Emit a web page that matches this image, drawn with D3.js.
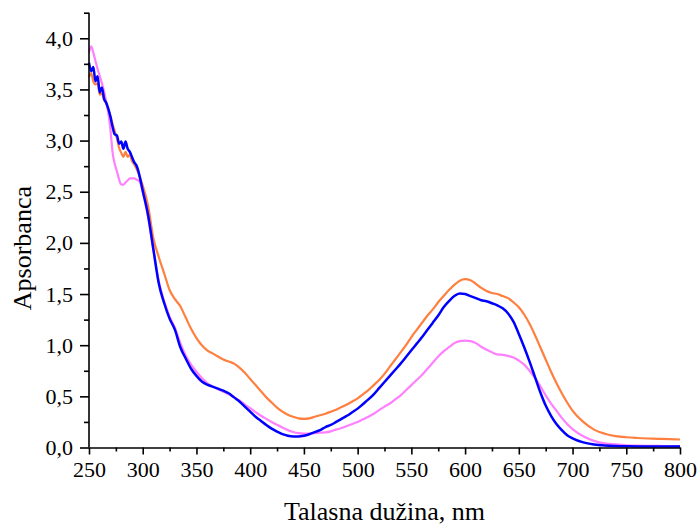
<!DOCTYPE html>
<html>
<head>
<meta charset="utf-8">
<script src="https://cdn.jsdelivr.net/npm/d3@7"></script>
<style>
  html, body { margin: 0; padding: 0; background: #fff; }
  svg { display: block; }
  text { font-family: "Liberation Serif", "Times New Roman", serif; fill: #000; }
</style>
</head>
<body>
<svg id="chart" width="700" height="526"></svg>
<script>
const wavelengths = [
  250,252,254,256,258,260,262,264,266,268,270,272,274,276,278,280,282,284,286,288,290,292,294,296,298,300,
  305,310,315,320,325,330,335,340,345,350,355,360,365,370,375,380,385,390,395,400,
  405,410,415,420,425,430,435,440,445,450,455,460,465,470,475,480,485,490,495,500,
  505,510,515,520,525,530,535,540,545,550,555,560,565,570,575,580,585,590,595,600,
  605,610,615,620,625,630,635,640,645,650,655,660,665,670,675,680,685,690,695,700,
  710,720,730,740,750,760,770,780,790,800
];

const orangeValues = [
  3.62,3.66,3.58,3.55,3.56,3.45,3.46,3.40,3.36,3.30,3.24,3.16,3.09,3.02,2.93,2.88,2.84,2.89,2.84,2.86,2.80,2.77,2.73,2.68,2.62,2.56,
  2.36,2.04,1.86,1.70,1.54,1.45,1.38,1.27,1.16,1.07,
  1.00,0.95,0.92,0.89,0.86,0.84,0.82,0.78,0.73,0.67,
  0.61,0.55,0.49,0.44,0.39,0.35,0.32,0.30,0.285,0.28,
  0.285,0.30,0.315,0.33,0.35,0.37,0.395,0.42,0.45,0.48,
  0.52,0.56,0.61,0.66,0.72,0.79,0.86,0.93,1.00,1.08,
  1.15,1.22,1.29,1.35,1.42,1.48,1.54,1.59,1.63,1.645,
  1.635,1.60,1.56,1.53,1.51,1.50,1.48,1.46,1.42,1.37,
  1.30,1.21,1.10,0.98,0.86,0.74,0.63,0.53,0.44,0.36,
  0.25,0.175,0.135,0.112,0.100,0.093,0.088,0.085,0.082,0.078
];

const pinkValues = [
  3.86,3.92,3.86,3.78,3.70,3.63,3.56,3.48,3.38,3.27,3.10,2.88,2.77,2.70,2.62,2.57,2.57,2.59,2.61,2.63,2.63,2.63,2.62,2.61,2.58,2.50,
  2.25,1.93,1.62,1.43,1.28,1.17,1.02,0.90,0.81,0.74,
  0.68,0.63,0.595,0.57,0.545,0.52,0.49,0.46,0.42,0.385,
  0.345,0.31,0.28,0.25,0.222,0.195,0.17,0.152,0.14,0.135,
  0.137,0.14,0.145,0.148,0.158,0.175,0.19,0.21,0.23,0.25,
  0.275,0.30,0.33,0.365,0.40,0.43,0.47,0.51,0.56,0.61,
  0.66,0.71,0.77,0.83,0.89,0.94,0.98,1.02,1.04,1.045,
  1.04,1.02,0.985,0.955,0.93,0.91,0.905,0.895,0.88,0.85,
  0.81,0.75,0.68,0.60,0.51,0.43,0.36,0.29,0.23,0.18,
  0.11,0.065,0.04,0.03,0.022,0.018,0.016,0.015,0.014,0.013
];

const blueValues = [
  3.76,3.68,3.72,3.58,3.63,3.47,3.52,3.41,3.37,3.31,3.23,3.13,3.06,3.05,2.97,2.99,2.92,2.99,2.92,2.89,2.84,2.79,2.76,2.70,2.61,2.51,
  2.27,1.93,1.60,1.41,1.26,1.15,0.98,0.87,0.77,0.70,
  0.645,0.615,0.595,0.575,0.555,0.53,0.49,0.45,0.40,0.35,
  0.30,0.26,0.22,0.185,0.155,0.13,0.115,0.108,0.108,0.115,
  0.13,0.15,0.17,0.20,0.22,0.25,0.28,0.31,0.345,0.38,
  0.425,0.47,0.52,0.58,0.64,0.70,0.76,0.82,0.885,0.95,
  1.015,1.08,1.15,1.22,1.29,1.37,1.43,1.48,1.505,1.50,
  1.48,1.46,1.44,1.43,1.41,1.39,1.36,1.31,1.23,1.11,
  0.98,0.84,0.69,0.54,0.41,0.31,0.23,0.17,0.12,0.09,
  0.05,0.03,0.02,0.015,0.012,0.01,0.01,0.01,0.01,0.01
];

const seriesNames = ["orange", "pink", "blue"];
const seriesColors = ["#ff7f3f", "#ff80ff", "#0000ff"];
const seriesWidths = [2.2, 2.2, 2.5];
const xMajorTicks = [250,300,350,400,450,500,550,600,650,700,750,800];
const xMinorTicks = [275,325,375,425,475,525,575,625,675,725,775];
const yMajorTicks = [0,0.5,1.0,1.5,2.0,2.5,3.0,3.5,4.0];
const yMinorTicks = [0.25,0.75,1.25,1.75,2.25,2.75,3.25,3.75,4.25];
const xTitle = "Talasna dužina, nm";
const yTitle = "Apsorbanca";

const svg = d3.select("#chart");
const mLeft = 89, mRight = 680, mTop = 12.7, mBottom = 447.5;

const x = d3.scaleLinear().domain([250, 800]).range([mLeft, mRight]);
const y = d3.scaleLinear().domain([0, 4.25]).range([mBottom, mTop]);

const fmt = v => d3.format(".1f")(v).replace(".", ",");

// lines
const series = [orangeValues, pinkValues, blueValues];
const line = d3.line()
  .x((d, i) => x(wavelengths[i]))
  .y(d => y(d))
  .curve(d3.curveMonotoneX);

svg.append("g").selectAll("path")
  .data(series)
  .join("path")
  .attr("fill", "none")
  .attr("stroke", (d, i) => seriesColors[i])
  .attr("stroke-width", (d, i) => seriesWidths[i])
  .attr("stroke-linejoin", "round")
  .attr("d", d => line(d));

// x axis
const gx = svg.append("g").attr("transform", `translate(0,${mBottom})`);
gx.call(d3.axisBottom(x).tickValues(xMinorTicks).tickSize(4).tickFormat(""))
  .call(g => g.select(".domain").remove());
const gx2 = svg.append("g").attr("transform", `translate(0,${mBottom})`);
gx2.call(d3.axisBottom(x).tickValues(xMajorTicks).tickSize(7).tickSizeOuter(0).tickPadding(7).tickFormat(d3.format("d")));
gx2.selectAll("text").style("font-size", "22px");

// y axis
const gy = svg.append("g").attr("transform", `translate(${mLeft},0)`);
gy.call(d3.axisLeft(y).tickValues(yMinorTicks).tickSize(5).tickFormat(""))
  .call(g => g.select(".domain").remove());
const gy2 = svg.append("g").attr("transform", `translate(${mLeft},0)`);
gy2.call(d3.axisLeft(y).tickValues(yMajorTicks).tickSize(9).tickSizeOuter(0).tickPadding(7).tickFormat(fmt));
gy2.selectAll("text").style("font-size", "22px");

gy2.select(".domain").attr("d", `M0,${mBottom}V${mTop}`);
svg.selectAll(".domain, .tick line").attr("stroke", "#000").attr("stroke-width", 1.6);
svg.selectAll("g").attr("font-family", null);

// axis titles
svg.append("text")
  .attr("x", (mLeft + mRight) / 2)
  .attr("y", 520)
  .attr("text-anchor", "middle")
  .style("font-size", "26px")
  .text(xTitle);

svg.append("text")
  .attr("transform", `translate(31,${(mTop + mBottom) / 2 + 18}) rotate(-90)`)
  .attr("text-anchor", "middle")
  .style("font-size", "26px")
  .text(yTitle);
</script>
</body>
</html>
